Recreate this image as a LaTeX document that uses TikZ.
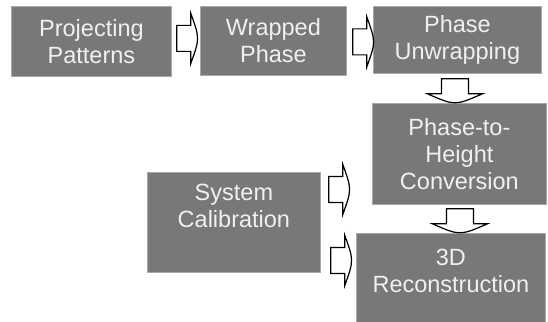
\documentclass[tikz,border=0pt]{standalone}
\usepackage{fontspec}
\setmainfont{Liberation Sans}
\usetikzlibrary{calc}
\definecolor{boxgray}{HTML}{787878}
\definecolor{boxline}{HTML}{A8A8A8}
\definecolor{boxtext}{HTML}{F0F0F0}
\tikzset{
  stage/.style={rectangle, fill=boxgray, draw=boxline, line width=0.8pt, inner sep=0pt, anchor=north west},
  stagetext/.style={text=boxtext, align=center, inner sep=0pt, font=\fontsize{23.5}{27}\selectfont},
  pics/rarrow/.style={code={
    \draw[line width=1.2pt] (14,-13) -- (0,-13) -- (0,13) -- (14,13) -- (14,25) .. controls (23,0) .. (14,-25) -- cycle;
  }},
  pics/darrow/.style={code={
    \draw[line width=1.2pt] (-13.5,15) -- (-13.5,0) -- (13.5,0) -- (13.5,15) -- (27.5,15) .. controls (0,27) .. (-27.5,15) -- cycle;
  }},
}
\begin{document}
\begin{tikzpicture}[x=1pt,y=-1pt]
  \useasboundingbox (0,0) rectangle (548,321);
  \clip (0,0) rectangle (548,321);
  % stages
  \node[stage, minimum width=160pt, minimum height=70pt] (proj) at (11,6) {};
  \node[stage, minimum width=146pt, minimum height=69pt] (wrap) at (200,6) {};
  \node[stage, minimum width=168pt, minimum height=67pt] (unwrap) at (373,6) {};
  \node[stage, minimum width=174pt, minimum height=101pt] (height) at (372,103) {};
  \node[stage, minimum width=173pt, minimum height=100pt] (calib) at (147,172) {};
  \node[stage, minimum width=189pt, minimum height=95pt] (recon) at (356,233) {};
  % labels
  \node[stagetext] (projtext) at (proj.center) {Projecting\\Patterns};
  \node[stagetext] (wraptext) at (wrap.center) {Wrapped\\Phase};
  \node[stagetext] (unwraptext) at (unwrap.center) {Phase\\Unwrapping};
  \node[stagetext] (heighttext) at (height.center) {Phase-to-\\Height\\Conversion};
  \node[stagetext] (calibtext) at ($(calib.center)+(0,-16)$) {System\\Calibration};
  \node[stagetext] (recontext) at ($(recon.center)+(0,-10)$) {3D\\Reconstruction};
  % block arrows
  \pic at ($(proj.east)+(5,-3)$) {rarrow};
  \pic at ($(wrap.east)+(6,1)$) {rarrow};
  \pic at ($(calib.east)+(8,-33)$) {rarrow};
  \pic at ($(calib.east)+(10,38)$) {rarrow};
  \pic at ($(unwrap.south)+(-2.5,5)$) {darrow};
  \pic at ($(height.south)+(0.5,4)$) {darrow};
\end{tikzpicture}
\end{document}
